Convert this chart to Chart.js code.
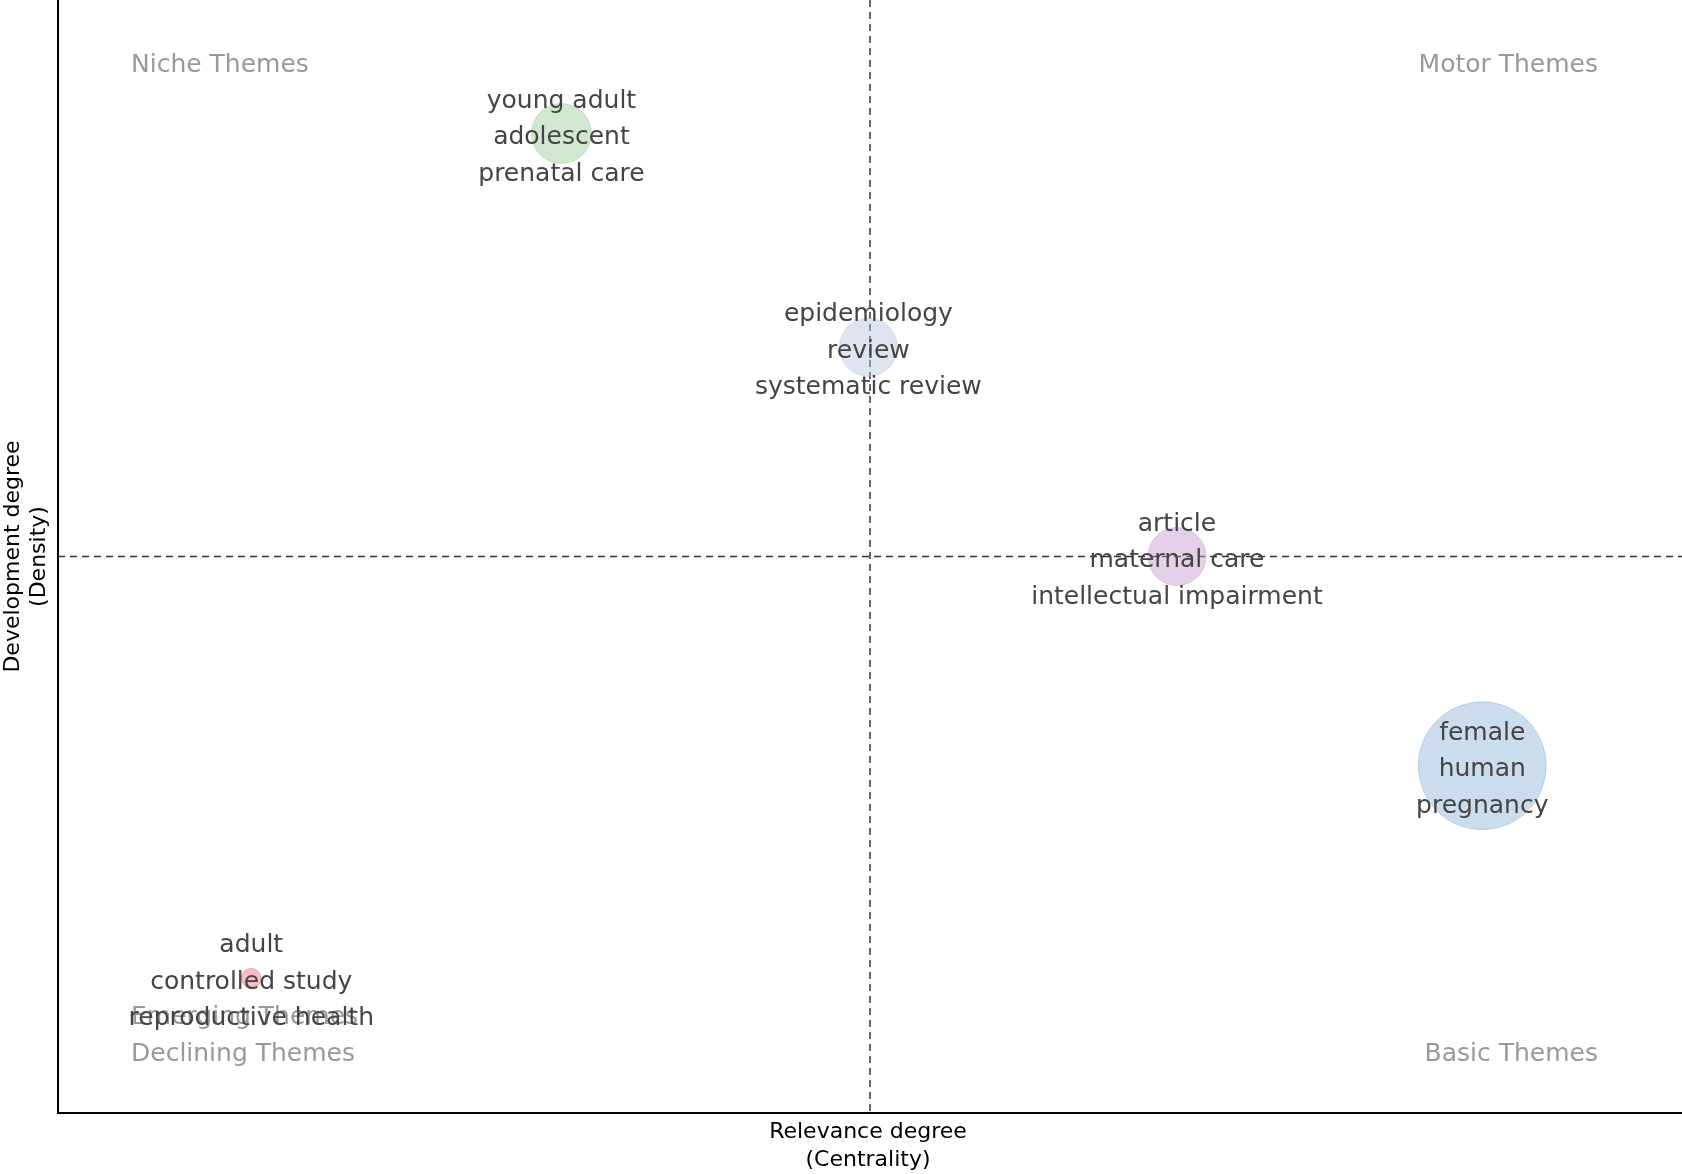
<!DOCTYPE html>
<html>
<head>
<meta charset="utf-8">
<script src="https://cdn.jsdelivr.net/npm/chart.js@4"></script>
<style>
  html, body { margin: 0; padding: 0; background: white; }
  #wrap { width: 1682px; height: 1174px; }
</style>
</head>
<body>
<div id="wrap"><canvas id="chart"></canvas></div>
<script>
// cluster positions (centrality, density), bubble size and label words
const centrality = [0.310, 0.499, 0.689, 0.877, 0.119];
const density = [0.880, 0.688, 0.500, 0.312, 0.121];
const bubbleSize = [30, 29, 29, 64, 10];
const clusterWords = [
  ['young adult', 'adolescent', 'prenatal care'],
  ['epidemiology', 'review', 'systematic review'],
  ['article', 'maternal care', 'intellectual impairment'],
  ['female', 'human', 'pregnancy'],
  ['adult', 'controlled study', 'reproductive health'],
];
const clusterColors = [
  'rgba(150, 205, 150, 0.45)',
  'rgba(185, 195, 225, 0.45)',
  'rgba(195, 150, 205, 0.45)',
  'rgba(140, 180, 215, 0.45)',
  'rgba(230, 110, 120, 0.45)',
];
const centerX = 0.5;
const centerY = 0.5;

const font = '"DejaVu Sans", sans-serif';

const points = centrality.map((x, i) => ({ x: x, y: density[i], r: bubbleSize[i] }));

const themeMapPlugin = {
  id: 'thememap',
  beforeDatasetsDraw: (chart) => {
    const ctx = chart.ctx;
    const area = chart.chartArea;
    const sx = chart.scales.x;
    const sy = chart.scales.y;
    ctx.save();

    // axes
    ctx.strokeStyle = '#000';
    ctx.lineWidth = 2;
    ctx.setLineDash([]);
    ctx.beginPath();
    ctx.moveTo(area.left, area.top);
    ctx.lineTo(area.left, area.bottom);
    ctx.lineTo(area.right, area.bottom);
    ctx.stroke();

    // quadrant lines
    ctx.lineWidth = 1.5;
    ctx.setLineDash([7, 5]);
    ctx.strokeStyle = '#333';
    const cx = sx.getPixelForValue(centerX);
    const cy = sy.getPixelForValue(centerY);
    ctx.beginPath();
    ctx.moveTo(cx, area.top);
    ctx.lineTo(cx, area.bottom);
    ctx.moveTo(area.left, cy);
    ctx.lineTo(area.right, cy);
    ctx.stroke();
    ctx.setLineDash([]);

    // quadrant names
    ctx.font = `25px ${font}`;
    ctx.fillStyle = '#999';
    ctx.textBaseline = 'middle';
    ctx.textAlign = 'left';
    ctx.fillText('Niche Themes', area.left + 73, 65);
    ctx.fillText('Emerging Themes', area.left + 73, 1017);
    ctx.fillText('Declining Themes', area.left + 73, 1054);
    ctx.textAlign = 'right';
    ctx.fillText('Motor Themes', area.right - 84, 65);
    ctx.fillText('Basic Themes', area.right - 84, 1054);

    // axis titles
    ctx.fillStyle = '#000';
    ctx.font = `22px ${font}`;
    ctx.textAlign = 'center';
    ctx.fillText('Relevance degree', 868, 1132);
    ctx.fillText('(Centrality)', 868, 1160);
    ctx.translate(26, (area.top + area.bottom) / 2);
    ctx.rotate(-Math.PI / 2);
    ctx.fillText('Development degree', 0, -13);
    ctx.fillText('(Density)', 0, 13);
    ctx.restore();
  },
  afterDatasetsDraw: (chart) => {
    const ctx = chart.ctx;
    const sx = chart.scales.x;
    const sy = chart.scales.y;
    ctx.save();
    ctx.font = `25px ${font}`;
    ctx.fillStyle = '#444';
    ctx.textAlign = 'center';
    ctx.textBaseline = 'middle';
    clusterWords.forEach((words, i) => {
      const x = sx.getPixelForValue(centrality[i]);
      const y = sy.getPixelForValue(density[i]) + 4;
      words.forEach((w, j) => {
        ctx.fillText(w, x, y + (j - 1) * 36.5);
      });
    });
    ctx.restore();
  },
};

new Chart(document.getElementById('chart'), {
  type: 'bubble',
  data: {
    datasets: [{
      data: points,
      backgroundColor: clusterColors,
      borderColor: clusterColors,
      borderWidth: 1,
    }],
  },
  options: {
    responsive: true,
    maintainAspectRatio: false,
    animation: false,
    layout: { autoPadding: false, padding: { left: 58, top: 0, right: 0, bottom: 61 } },
    scales: {
      x: { display: false, min: 0, max: 1 },
      y: { display: false, min: 0, max: 1 },
    },
    plugins: { legend: { display: false }, tooltip: { enabled: false } },
  },
  plugins: [themeMapPlugin],
});
</script>
</body>
</html>
